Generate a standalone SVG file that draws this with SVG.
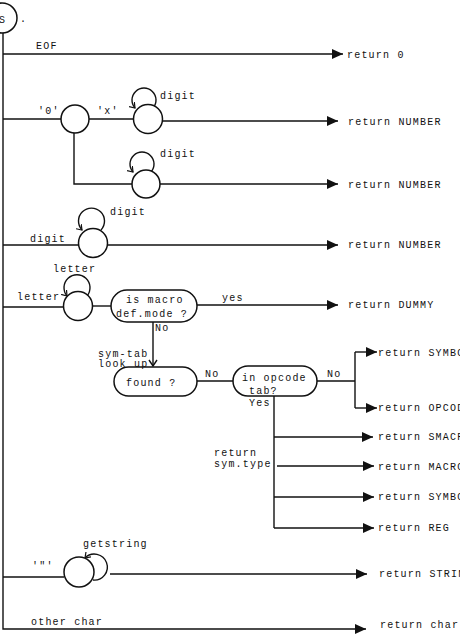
<svg xmlns="http://www.w3.org/2000/svg" width="460" height="638" viewBox="0 0 460 638">
<defs>
<marker id="ah" markerUnits="userSpaceOnUse" markerWidth="12" markerHeight="10" refX="11" refY="5" orient="auto">
<path d="M0,0 L11,5 L0,10 Z" fill="#111"/>
</marker>
<marker id="va" markerUnits="userSpaceOnUse" markerWidth="10" markerHeight="10" refX="7" refY="5" orient="auto">
<path d="M1,1 L7,5 L1,9" fill="none" stroke="#111" stroke-width="1.4"/>
</marker>
<marker id="la" markerUnits="userSpaceOnUse" markerWidth="8" markerHeight="8" refX="5" refY="4" orient="auto">
<path d="M0,0.5 L5,4 L0,7.5" fill="none" stroke="#111" stroke-width="1.2"/>
</marker>
</defs>
<style>
text{font-family:"Liberation Mono","DejaVu Sans Mono",monospace;font-size:10px;letter-spacing:1.2px;fill:#111}
.n{fill:#fff;stroke:#111;stroke-width:1.5}
.c{fill:none;stroke:#111;stroke-width:1.4}
.a{marker-end:url(#ah)}
</style>
<rect width="460" height="638" fill="#fff"/>

<g id="connectors">
<path class="c" d="M3,33 V629 H366" marker-end="url(#ah)"/>
<path class="c a" d="M3,54 H343"/>
<path class="c" d="M3,119 H61"/>
<path class="c" d="M89,119 H133"/>
<path class="c a" d="M162,121 H338"/>
<path class="c" d="M74,133 V184 H132"/>
<path class="c a" d="M160,184 H338"/>
<path class="c" d="M3,245 H79"/>
<path class="c a" d="M108,245 H338"/>
<path class="c" d="M3,307 H64"/>
<path class="c" d="M93,306 H111"/>
<path class="c a" d="M197,305 H338"/>
<path class="c" d="M153,322 V366" marker-end="url(#va)"/>
<path class="c" d="M197,381 H233"/>
<path class="c" d="M317,381 H355 M355,352 V408"/>
<path class="c a" d="M355,352 H377"/>
<path class="c a" d="M355,408 H377"/>
<path class="c" d="M274,396 V528"/>
<path class="c a" d="M274,437 H373"/>
<path class="c a" d="M277,466 H374"/>
<path class="c a" d="M274,497 H374"/>
<path class="c a" d="M274,528 H374"/>
<path class="c" d="M3,577 H64"/>
<path class="c a" d="M110,574 H367"/>
<!-- self loops -->
<path class="c" d="M153,108 A12 12 0 1 0 135,108" marker-end="url(#la)"/>
<path class="c" d="M151,172 A12 12 0 1 0 133,172" marker-end="url(#la)"/>
<path class="c" d="M101,230 A13 13 0 1 0 82,230" marker-end="url(#la)"/>
<path class="c" d="M87,296 A13 13 0 1 0 67,296" marker-end="url(#la)"/>
<path class="c" d="M93,580 A13 13 0 1 0 85,558" marker-end="url(#la)"/>
</g>

<g id="start">
<circle class="n" cx="2" cy="18" r="15"/>
<text x="-1" y="23">S</text>
<text x="20" y="22">.</text>
</g>
<g id="q0"><circle class="n" cx="75" cy="119" r="14"/></g>
<g id="q0x"><circle class="n" cx="148" cy="119" r="14.5"/></g>
<g id="q0d"><circle class="n" cx="146" cy="184" r="14"/></g>
<g id="qd"><circle class="n" cx="93" cy="243" r="14.5"/></g>
<g id="ql"><circle class="n" cx="78" cy="306" r="14.5"/></g>
<g id="qs"><circle class="n" cx="79" cy="572" r="15"/></g>

<g id="macro">
<rect class="n" x="111" y="290" width="86" height="32" rx="16"/>
<text x="126" y="303">is macro</text>
<text x="116" y="317">def.mode ?</text>
</g>
<g id="found">
<rect class="n" x="114" y="367" width="83" height="29" rx="14.5"/>
<text x="126" y="386">found ?</text>
</g>
<g id="opcode">
<rect class="n" x="233" y="366" width="84" height="30" rx="15"/>
<text x="242" y="381">in opcode</text>
<text x="249" y="394">tab?</text>
</g>

<g id="labels">
<text x="36" y="49">EOF</text>
<text x="38" y="114">'0'</text>
<text x="97" y="114">'x'</text>
<text x="160" y="99">digit</text>
<text x="160" y="157">digit</text>
<text x="110" y="215">digit</text>
<text x="30" y="242">digit</text>
<text x="53" y="272">letter</text>
<text x="17" y="300">letter</text>
<text x="222" y="301">yes</text>
<text x="155" y="331">No</text>
<text x="98" y="357">sym-tab</text>
<text x="98" y="367">look up</text>
<text x="205" y="377">No</text>
<text x="327" y="377">No</text>
<text x="249" y="406">Yes</text>
<text x="214" y="456">return</text>
<text x="214" y="467">sym.type</text>
<text x="83" y="547">getstring</text>
<text x="32" y="569">'"'</text>
<text x="31" y="625">other char</text>
</g>

<g id="returns">
<text x="347" y="58">return 0</text>
<text x="348" y="125">return NUMBER</text>
<text x="348" y="188">return NUMBER</text>
<text x="348" y="248">return NUMBER</text>
<text x="348" y="308">return DUMMY</text>
<text x="378" y="356">return SYMBOL</text>
<text x="378" y="411">return OPCODE</text>
<text x="378" y="440">return SMACRO</text>
<text x="378" y="470">return MACRO</text>
<text x="378" y="500">return SYMBOL</text>
<text x="378" y="531">return REG</text>
<text x="379" y="577">return STRING</text>
<text x="380" y="628">return char</text>
</g>
</svg>
